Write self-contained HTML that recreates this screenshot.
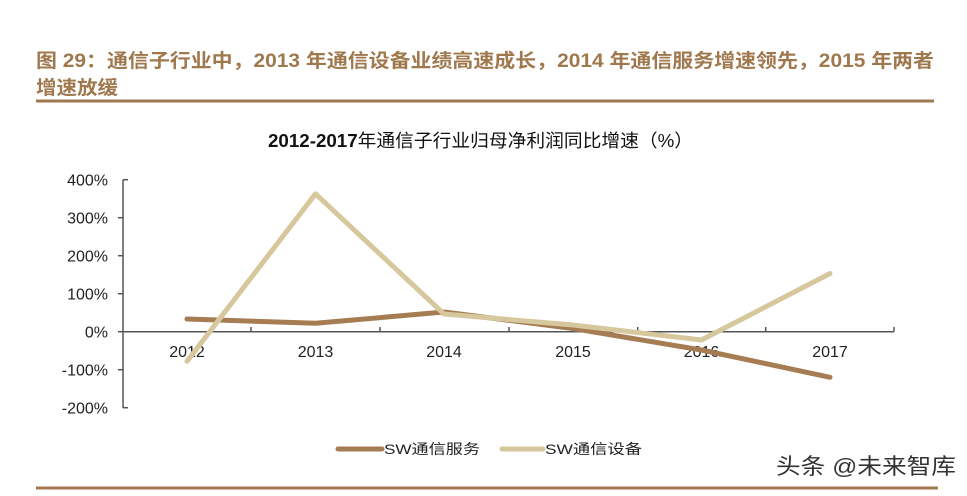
<!DOCTYPE html>
<html><head><meta charset="utf-8"><style>
html,body{margin:0;padding:0;background:#fff;}
svg{display:block;}
</style></head><body>
<svg width="967" height="496" viewBox="0 0 967 496" xmlns="http://www.w3.org/2000/svg">
<rect width="967" height="496" fill="#fff"/>
<g font-family="'Liberation Sans','Noto Sans CJK SC',sans-serif" font-weight="bold" fill="#a0784e" font-size="19">
<text x="36" y="67" textLength="898" lengthAdjust="spacingAndGlyphs">图 29：通信子行业中，2013 年通信设备业绩高速成长，2014 年通信服务增速领先，2015 年两者</text>
<text x="36" y="94" textLength="82" lengthAdjust="spacingAndGlyphs">增速放缓</text>
</g>
<rect x="36" y="99.5" width="898" height="3" fill="#a0784e"/>
<text x="268" y="147" font-family="'Liberation Sans','Noto Sans CJK SC',sans-serif" font-size="18" fill="#111" textLength="425" lengthAdjust="spacingAndGlyphs"><tspan font-weight="bold">2012-2017</tspan>年通信子行业归母净利润同比增速（%）</text>
<g stroke="#555" stroke-width="1.5" fill="none">
<line x1="123" y1="179.7" x2="123" y2="407.7"/>
<line x1="123" y1="331.7" x2="894" y2="331.7"/>
<line x1="123" y1="179.7" x2="128" y2="179.7"/>
<line x1="118" y1="217.7" x2="123" y2="217.7"/>
<line x1="118" y1="255.7" x2="123" y2="255.7"/>
<line x1="118" y1="293.7" x2="123" y2="293.7"/>
<line x1="118" y1="331.7" x2="123" y2="331.7"/>
<line x1="118" y1="369.7" x2="123" y2="369.7"/>
<line x1="123" y1="407.7" x2="128" y2="407.7"/>
<line x1="251" y1="327" x2="251" y2="331.7"/>
<line x1="380" y1="327" x2="380" y2="331.7"/>
<line x1="509" y1="327" x2="509" y2="331.7"/>
<line x1="637.7" y1="327" x2="637.7" y2="331.7"/>
<line x1="765.7" y1="327" x2="765.7" y2="331.7"/>
<line x1="894" y1="327" x2="894" y2="331.7"/>
</g>
<g font-family="'Liberation Sans',sans-serif" font-size="16" fill="#222" text-anchor="end">
<text x="108" y="185.5">400%</text>
<text x="108" y="223.5">300%</text>
<text x="108" y="261.5">200%</text>
<text x="108" y="299.5">100%</text>
<text x="108" y="337.5">0%</text>
<text x="108" y="375.5">-100%</text>
<text x="108" y="413.5">-200%</text>
</g>
<g font-family="'Liberation Sans',sans-serif" font-size="16" fill="#222" text-anchor="middle">
<text x="187" y="357">2012</text>
<text x="315.5" y="357">2013</text>
<text x="444" y="357">2014</text>
<text x="573" y="357">2015</text>
<text x="701.5" y="357">2016</text>
<text x="830" y="357">2017</text>
</g>
<polyline points="187,319 315.5,323.3 444,312 573,328.5 701.5,350 830,377.3" fill="none" stroke="#a67c52" stroke-width="5" stroke-linecap="round" stroke-linejoin="round"/>
<polyline points="187,361.3 315.5,193.8 444,314 573,325 701.5,340 830,273.5" fill="none" stroke="#d6c79c" stroke-width="5" stroke-linecap="round" stroke-linejoin="round"/>
<line x1="338" y1="449" x2="382" y2="449" stroke="#a67c52" stroke-width="5" stroke-linecap="round"/>
<text x="384" y="454" font-family="'Liberation Sans','Noto Sans CJK SC',sans-serif" font-size="14" fill="#222" textLength="96" lengthAdjust="spacingAndGlyphs">SW通信服务</text>
<line x1="502" y1="449" x2="543" y2="449" stroke="#d6c79c" stroke-width="5" stroke-linecap="round"/>
<text x="545" y="454" font-family="'Liberation Sans','Noto Sans CJK SC',sans-serif" font-size="14" fill="#222" textLength="97" lengthAdjust="spacingAndGlyphs">SW通信设备</text>
<text x="776" y="474" font-family="'Liberation Sans','Noto Sans CJK SC',sans-serif" font-size="22" fill="#333" textLength="180" lengthAdjust="spacingAndGlyphs">头条 @未来智库</text>
<rect x="36" y="486.5" width="902" height="3" fill="#a0784e"/>
</svg>
</body></html>
